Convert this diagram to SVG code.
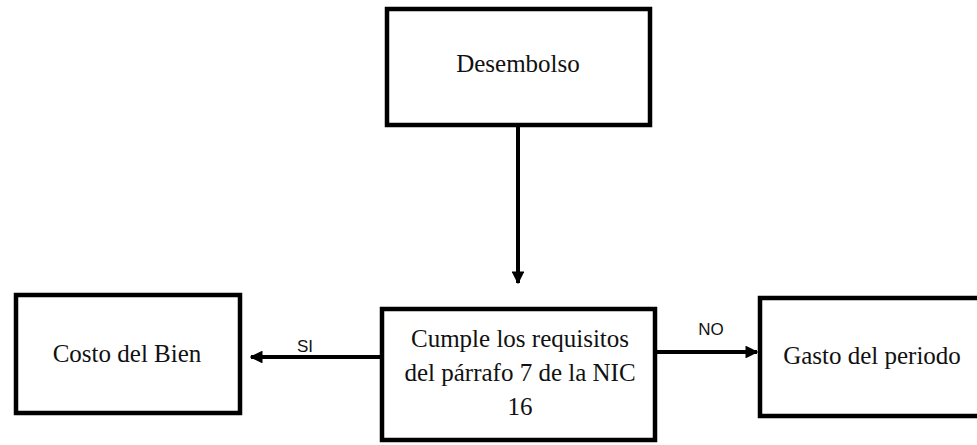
<svg xmlns="http://www.w3.org/2000/svg" width="977" height="445" viewBox="0 0 977 445">
<style>
.box{fill:#fff;stroke:#000;stroke-width:4.5}
.t{font-family:"Liberation Serif","Times New Roman",serif;font-size:25px;fill:#111;text-anchor:middle}
.lbl{font-family:"Liberation Sans",Arial,sans-serif;font-size:17px;fill:#111;text-anchor:middle}
.c{stroke:#000;stroke-width:4;fill:none}
</style>
<defs>
<marker id="ah" viewBox="0 0 10 10" refX="9" refY="5" markerWidth="3.2" markerHeight="3.2" orient="auto" markerUnits="strokeWidth">
<path d="M0,0 L10,5 L0,10 z" fill="#000"/>
</marker>
</defs>
<rect width="977" height="445" fill="#fff"/>
<g id="connectors">
<line class="c" x1="518" y1="127" x2="518" y2="283" marker-end="url(#ah)"/>
<line class="c" x1="382" y1="357" x2="251" y2="357" marker-end="url(#ah)"/>
<line class="c" x1="656" y1="352" x2="757" y2="352" marker-end="url(#ah)"/>
<text class="lbl" x="305" y="352">SI</text>
<text class="lbl" x="711" y="335">NO</text>
</g>
<g id="desembolso">
<rect class="box" x="387" y="9" width="263" height="116"/>
<text class="t" x="518" y="72">Desembolso</text>
</g>
<g id="costo">
<rect class="box" x="16" y="295" width="224" height="118"/>
<text class="t" x="127" y="362">Costo del Bien</text>
</g>
<g id="cumple">
<rect class="box" x="382" y="309" width="273" height="131"/>
<text class="t" x="520" y="347">Cumple los requisitos</text>
<text class="t" x="520" y="381">del párrafo 7 de la NIC</text>
<text class="t" x="520" y="415">16</text>
</g>
<g id="gasto">
<rect class="box" x="760" y="298" width="230" height="118"/>
<text class="t" x="872" y="364">Gasto del periodo</text>
</g>
</svg>
